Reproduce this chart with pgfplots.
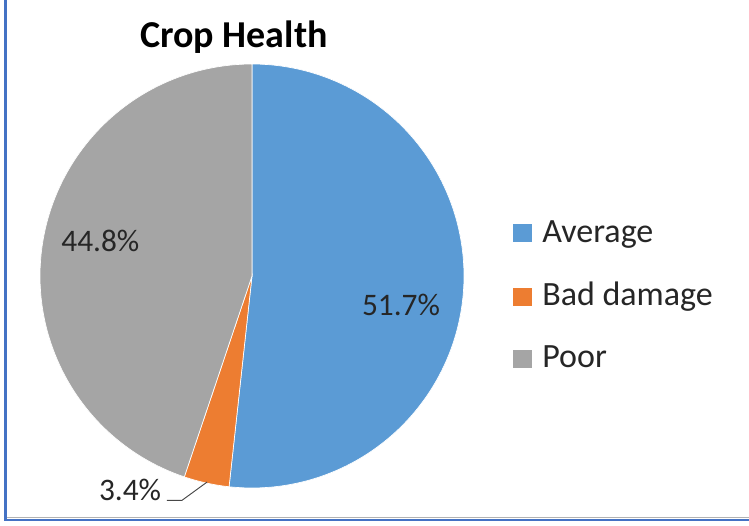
\documentclass[border=0pt]{standalone}
\usepackage{pgfplots}
\usepackage{pgfplotstable}
\pgfplotsset{compat=1.18}
\usepackage{fontspec}
\setmainfont{Carlito}

\definecolor{avgblue}{HTML}{5B9BD5}
\definecolor{badorange}{HTML}{ED7D31}
\definecolor{poorgray}{HTML}{A5A5A5}
\definecolor{frameblue}{HTML}{4472C4}
\definecolor{labeltext}{HTML}{262626}

% number of fields in each health class
\pgfplotstableread[col sep=comma]{
category,count
Average,15
Bad damage,1
Poor,13
}\cropdata

\begin{document}
\begin{tikzpicture}
\pgfplotstablegetelem{0}{count}\of\cropdata \let\nA\pgfplotsretval
\pgfplotstablegetelem{1}{count}\of\cropdata \let\nB\pgfplotsretval
\pgfplotstablegetelem{2}{count}\of\cropdata \let\nC\pgfplotsretval
\pgfmathsetmacro\total{\nA+\nB+\nC}
% slices start at 12 o'clock and run clockwise
\pgfmathsetmacro\angA{90}
\pgfmathsetmacro\angB{\angA-360*\nA/\total}
\pgfmathsetmacro\angC{\angB-360*\nB/\total}
\pgfmathsetmacro\angD{\angC-360*\nC/\total}
\pgfmathsetmacro\pA{100*\nA/\total}
\pgfmathsetmacro\pB{100*\nB/\total}
\pgfmathsetmacro\pC{100*\nC/\total}

\useasboundingbox (0,0) rectangle (561.75pt,393.75pt);
\fill[white] (0,0) rectangle (561.75pt,393.75pt);

% chart area frame (left and bottom edges)
\draw[gray!60, line width=1pt] (4.5pt,5.4pt) -- (561.75pt,5.4pt);
\draw[frameblue, line width=1.6pt] (4.1pt,393.75pt) -- (4.1pt,3.9pt) -- (561.75pt,3.9pt);

% title
\node[font=\fontsize{28.5}{30}\selectfont\bfseries, anchor=base] at (175.5pt,357.75pt) {Crop Health};

\begin{axis}[
  at={(189pt,186.75pt)}, anchor=origin,
  x=159pt, y=159pt,
  xmin=-1, xmax=1, ymin=-1, ymax=1,
  hide axis, clip=false,
  /pgf/number format/assume math mode=true,
]
\addplot[fill=avgblue, draw=white, line width=0.5pt, mark=none,
  domain=\angB:\angA, samples=150, variable=\t]
  ({cos(\t)},{sin(\t)}) -- (axis cs:0,0) -- cycle;
\addplot[fill=badorange, draw=white, line width=0.5pt, mark=none,
  domain=\angC:\angB, samples=20, variable=\t]
  ({cos(\t)},{sin(\t)}) -- (axis cs:0,0) -- cycle;
\addplot[fill=poorgray, draw=white, line width=0.5pt, mark=none,
  domain=\angD:\angC, samples=150, variable=\t]
  ({cos(\t)},{sin(\t)}) -- (axis cs:0,0) -- cycle;

% data labels
\node[font=\fontsize{23.5}{25}\selectfont, text=labeltext, anchor=base]
  at (axis cs:0.703,-0.186)
  {\pgfmathprintnumber[fixed,fixed zerofill,precision=1]{\pA}\%};
\node[font=\fontsize{23.5}{25}\selectfont, text=labeltext, anchor=base]
  at (axis cs:-0.715,0.116)
  {\pgfmathprintnumber[fixed,fixed zerofill,precision=1]{\pC}\%};
\node[font=\fontsize{23.5}{25}\selectfont, text=labeltext, anchor=base]
  at (axis cs:-0.575,-1.061)
  {\pgfmathprintnumber[fixed,fixed zerofill,precision=1]{\pB}\%};
\draw[labeltext!85, line width=0.7pt]
  (axis cs:-0.401,-1.058) -- (axis cs:-0.330,-1.058) -- (axis cs:-0.212,-0.972);
\end{axis}

% legend
\fill[avgblue]   (384.75pt,212.25pt) rectangle (399pt,226pt);
\fill[badorange] (384.75pt,164.25pt) rectangle (399pt,178pt);
\fill[poorgray]  (384.75pt,117.75pt) rectangle (399pt,131.5pt);
\node[font=\fontsize{25.5}{27}\selectfont, text=labeltext, anchor=base west, inner sep=0pt]
  at (406.5pt,211.5pt) {Average};
\node[font=\fontsize{25.5}{27}\selectfont, text=labeltext, anchor=base west, inner sep=0pt]
  at (406.5pt,164.25pt) {Bad damage};
\node[font=\fontsize{25.5}{27}\selectfont, text=labeltext, anchor=base west, inner sep=0pt]
  at (406.5pt,117.75pt) {Poor};
\end{tikzpicture}
\end{document}
